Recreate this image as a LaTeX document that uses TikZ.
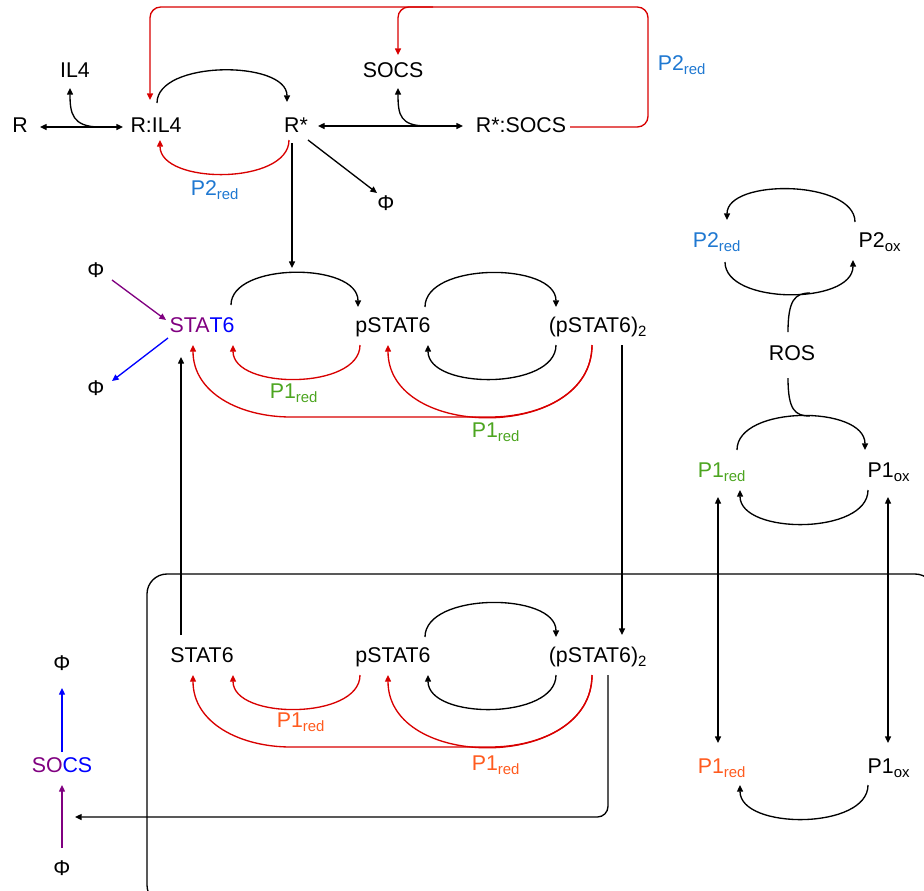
\documentclass[tikz,border=0pt]{standalone}
\usepackage{fontspec}
\setmainfont{Liberation Sans}
\usetikzlibrary{arrows.meta, calc}
\definecolor{cred}{HTML}{D80000}
\definecolor{cpurple}{HTML}{800080}
\definecolor{cblue}{HTML}{0000FF}
\definecolor{cptwo}{HTML}{1F78D1}
\definecolor{cgreen}{HTML}{4CA520}
\definecolor{corange}{HTML}{FF5B1F}
\newcommand{\lowtxt}[1]{\textsubscript{#1}}
\tikzset{
  every picture/.style={line width=1pt},
  sp/.style={inner sep=0pt, text height=12pt, text depth=3.5pt, font=\fontsize{16}{19}\selectfont},
  lab/.style={sp, text=#1},
  arr/.style={-{Triangle[length=5pt, width=4.5pt]}},
  dbl/.style={{Triangle[length=5pt, width=4.5pt]}-{Triangle[length=5pt, width=4.5pt]}},
  redarr/.style={arr, draw=cred},
}

\begin{document}
\begin{tikzpicture}[x=0.75pt, y={(0pt,-0.75pt)}]
  \useasboundingbox (0,0) rectangle (924,890);
  \clip (0,0) rectangle (924,890);
  % receptor part
  \node[sp] (r) at (20,127) {R};
  \node[sp] (il4) at (75,72) {IL4};
  \node[sp] (ril) at (156,127) {R:IL4};
  \node[sp] (rs) at (296,127) {R*};
  \node[sp] (socs) at (393,72) {SOCS};
  \node[sp] (rsocs) at (521,127) {R*:SOCS};
  \node[sp] (phiA) at (386,205) {Φ};
  \node[lab=cptwo] (lbA) at (215,190) {P2\lowtxt{red}};
  \node[lab=cptwo] (lbB) at (682,65) {P2\lowtxt{red}};
  % STAT6, top row
  \node[sp] (phiB) at (96,272) {Φ};
  \node[sp] (stat6) at (202,327) {{\color{cpurple}STA}{\color{cblue}T6}};
  \node[sp] (pstat6) at (393,327) {pSTAT6};
  \node[sp] (dimer) at (598,327) {(pSTAT6)\lowtxt{2}};
  \node[sp] (phiC) at (96,390) {Φ};
  \node[lab=cgreen] (lbC) at (294,393) {P1\lowtxt{red}};
  \node[lab=cgreen] (lbD) at (496,432) {P1\lowtxt{red}};
  % redox pairs
  \node[lab=cptwo] (p2r) at (717,242) {P2\lowtxt{red}};
  \node[sp] (p2o) at (880,242) {P2\lowtxt{ox}};
  \node[sp] (ros) at (792,355) {ROS};
  \node[lab=cgreen] (p1r) at (722,472) {P1\lowtxt{red}};
  \node[sp] (p1o) at (889,472) {P1\lowtxt{ox}};
  % nucleus
  \node[sp] (stat6b) at (202,657) {STAT6};
  \node[sp] (pstat6b) at (393,657) {pSTAT6};
  \node[sp] (dimerb) at (598,657) {(pSTAT6)\lowtxt{2}};
  \node[lab=corange] (lbE) at (301,722) {P1\lowtxt{red}};
  \node[lab=corange] (lbF) at (496,765) {P1\lowtxt{red}};
  \node[lab=corange] (p1rb) at (722,768) {P1\lowtxt{red}};
  \node[sp] (p1ob) at (889,768) {P1\lowtxt{ox}};
  \node[sp] (phiD) at (62,665) {Φ};
  \node[sp] (socsb) at (62,767) {{\color{cpurple}SO}{\color{cblue}CS}};
  \node[sp] (phiE) at (62,870) {Φ};
  \draw[rounded corners=15] (147,574) rectangle (935,905);

  % receptor reactions
  \draw[dbl] ($(r)+(20,0)$) -- ($(ril)+(-33,0)$);
  \draw[arr] ($(ril)+(-56,0)$) .. controls +(-28,0) and +(0,25) .. ($(il4)+(-5,16)$);
  \draw[arr] ($(ril)+(1,-24)$) .. controls +(0,-43) and +(0,-42) .. ($(rs)+(-9,-25)$);
  \draw[redarr] ($(rs)+(-7,13)$) .. controls +(0,45) and +(0,45) .. ($(ril)+(4,13)$);
  \draw[dbl] ($(rs)+(22,-1)$) -- ($(rsocs)+(-58,-1)$);
  \draw[arr] ($(rsocs)+(-94,-1)$) .. controls +(-27,0) and +(0,27) .. ($(socs)+(5,16)$);
  \draw[arr] ($(rs)+(12,13)$) -- ($(phiA)+(-9,-12)$);
  \draw[arr] ($(rs)+(-4,16)$) -- ++(0,125);
  \draw[redarr, rounded corners=8] ($(rsocs)+(49,0)$) -| ++(78,-120) -| ($(ril)+(-6,-27)$);
  \draw[redarr, rounded corners=8] ($(socs)+(40,-65)$) -| ($(socs)+(5,-17)$);

  % top row
  \draw[arr, draw=cpurple] ($(phiB)+(16,8)$) -- ($(stat6)+(-36,-7)$);
  \draw[arr, draw=cblue] ($(stat6)+(-34,11)$) -- ($(phiC)+(16,-9)$);
  \draw[arr] ($(stat6)+(29,-22)$) .. controls +(0,-43) and +(0,-45) .. ($(pstat6)+(-35,-20)$);
  \draw[redarr] ($(pstat6)+(-33,18)$) .. controls +(0,45) and +(0,45) .. ($(stat6)+(31,18)$);
  \draw[arr] ($(pstat6)+(32,-20)$) .. controls +(0,-45) and +(0,-45) .. ($(dimer)+(-42,-20)$);
  \draw[arr] ($(dimer)+(-42,18)$) .. controls +(0,45) and +(0,45) .. ($(pstat6)+(35,18)$);
  \draw[redarr] ($(dimer)+(-6,18)$) .. controls +(0,96) and +(0,96) .. ($(pstat6)+(-5,18)$);
  \draw[redarr] ($(dimer)+(-6,18)$) .. controls +(0,48) and +(51,0) .. ($(dimer)+(-108,90)$)
    -- ($(stat6)+(89,90)$) .. controls +(-51,0) and +(0,48) .. ($(stat6)+(-9,18)$);
  \draw[arr] ($(stat6b)+(-21,-22)$) -- ($(stat6)+(-21,30)$);
  \draw[arr] ($(dimer)+(24,18)$) -- ($(dimerb)+(24,-22)$);

  % nucleus row
  \draw[redarr] ($(pstat6b)+(-33,18)$) .. controls +(0,45) and +(0,45) .. ($(stat6b)+(31,18)$);
  \draw[arr] ($(pstat6b)+(32,-20)$) .. controls +(0,-45) and +(0,-45) .. ($(dimerb)+(-42,-20)$);
  \draw[arr] ($(dimerb)+(-42,18)$) .. controls +(0,45) and +(0,45) .. ($(pstat6b)+(35,18)$);
  \draw[redarr] ($(dimerb)+(-6,18)$) .. controls +(0,96) and +(0,96) .. ($(pstat6b)+(-5,18)$);
  \draw[redarr] ($(dimerb)+(-6,18)$) .. controls +(0,48) and +(51,0) .. ($(dimerb)+(-108,90)$)
    -- ($(stat6b)+(89,90)$) .. controls +(-51,0) and +(0,48) .. ($(stat6b)+(-9,18)$);
  \draw[arr, rounded corners=8] ($(dimerb)+(10,18)$) |- ($(socsb)+(13,50)$);
  \draw[arr, draw=cblue] ($(socsb)+(0,-15)$) -- ($(phiD)+(0,23)$);
  \draw[arr, draw=cpurple] ($(phiE)+(0,-22)$) -- ($(socsb)+(0,18)$);

  % redox cycles
  \draw[arr] ($(p2o)+(-25,-20)$) .. controls +(0,-42) and +(0,-42) .. ($(p2r)+(10,-22)$);
  \draw[arr] ($(p2r)+(8,20)$) .. controls +(0,43) and +(0,45) .. ($(p2o)+(-27,18)$);
  \draw ($(ros)+(-4,-23)$) .. controls +(0,-32) and +(-15,0) .. ($(ros)+(18,-62)$);
  \draw[arr] ($(p1r)+(15,-22)$) .. controls +(0,-45) and +(0,-45) .. ($(p1o)+(-24,-22)$);
  \draw ($(ros)+(-4,23)$) .. controls +(0,32) and +(-15,0) .. ($(ros)+(18,61)$);
  \draw[arr] ($(p1o)+(-21,18)$) .. controls +(0,45) and +(0,45) .. ($(p1r)+(18,18)$);
  \draw[dbl] ($(p1r)+(-4,25)$) -- ($(p1rb)+(-4,-25)$);
  \draw[dbl] ($(p1o)+(-1,25)$) -- ($(p1ob)+(-1,-25)$);
  \draw[arr] ($(p1ob)+(-21,17)$) .. controls +(0,45) and +(0,45) .. ($(p1rb)+(18,17)$);
\end{tikzpicture}
\end{document}
